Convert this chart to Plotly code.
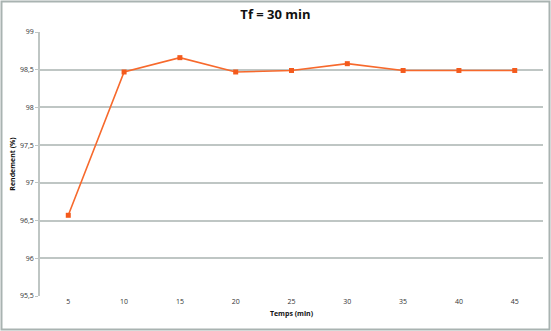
import plotly.graph_objects as go

# Reaction time (min) and measured yield (%)
temps = ["5", "10", "15", "20", "25", "30", "35", "40", "45"]
rendement = [96.57, 98.47, 98.66, 98.47, 98.49, 98.58, 98.49, 98.49, 98.49]

W, H = 551, 331
ML, MR, MT, MB = 40, 8, 32, 35

orange = "#f7692c"
grid = "#bfc6c4"
font = "Open Sans"

fig = go.Figure()
fig.add_trace(go.Scatter(
    x=temps, y=rendement, mode="lines+markers",
    line=dict(color=orange, width=1.6),
    marker=dict(symbol="square", size=5, color="#f45a1c"),
    showlegend=False,
))

# frame drawn around the whole chart area
pw, ph = W - ML - MR, H - MT - MB
fig.add_shape(type="rect", xref="paper", yref="paper",
              x0=(1.5 - ML) / pw, x1=(W - 1.5 - ML) / pw,
              y0=-(H - 1.5 - MT - ph) / ph, y1=(MT - 1.5) / ph + 1,
              line=dict(color="#a9b3b1", width=2))

fig.update_layout(
    width=W, height=H,
    margin=dict(l=ML, r=MR, t=MT, b=MB),
    paper_bgcolor="white", plot_bgcolor="white",
    separators=", ",
    title=dict(text="<b>Tf = 30 min</b>", x=0.5, xanchor="center",
               y=1 - 14 / H, yanchor="middle",
               font=dict(family=font, size=13, color="#111")),
    font=dict(family=font, size=8, color="#333"),
    xaxis=dict(type="category", showgrid=False, zeroline=False,
               showline=False, ticks="",
               tickfont=dict(size=7, color="#333"),
               title=dict(text="<b>Temps (min)</b>", standoff=6,
                          font=dict(size=7, color="#111"))),
    yaxis=dict(range=[95.5, 99], dtick=0.5, showgrid=True,
               gridcolor=grid, gridwidth=1.5, zeroline=False,
               showline=True, linecolor=grid, linewidth=1.5,
               ticks="outside", ticklen=3, tickcolor=grid,
               tickfont=dict(size=7, color="#333"),
               title=dict(text="<b>Rendement (%)</b>", standoff=4,
                          font=dict(size=7, color="#111"))),
)

fig.write_html("out.html")
